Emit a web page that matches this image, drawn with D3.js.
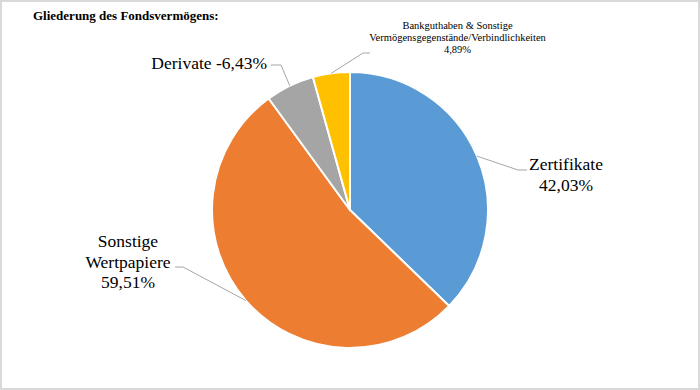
<!DOCTYPE html>
<html><head><meta charset="utf-8">
<script src="https://cdn.jsdelivr.net/npm/d3@7"></script>
<style>
html,body{margin:0;padding:0;background:#fff;}
svg{display:block;}
svg text{font-family:"Liberation Serif","Times New Roman",Times,"DejaVu Serif",serif;}
</style></head>
<body>
<svg id="chart" width="700" height="390"></svg>
<script>
// ---- data ----
const categories = ["Zertifikate", "Sonstige Wertpapiere", "Derivate", "Bankguthaben & Sonstige Vermögensgegenstände/Verbindlichkeiten"];
const values = [42.03, 59.51, -6.43, 4.89];
const labelLines = [
  ["Zertifikate", "42,03%"],
  ["Sonstige", "Wertpapiere", "59,51%"],
  ["Derivate -6,43%"],
  ["Bankguthaben & Sonstige", "Vermögensgegenstände/Verbindlichkeiten", "4,89%"]
];
const colors = ["#5B9BD5", "#ED7D31", "#A5A5A5", "#FFC000"];
const title = "Gliederung des Fondsvermögens:";

// ---- layout ----
const W = 700, H = 390;
const cx = 350, cy = 210, R = 138;
const labelLayout = [
  {bend:[518,170], end:[527,170], x:566, y:170, size:17.5, lh:21, anchor:"middle"},
  {bend:[183,267], end:[175,267], x:128, y:247, size:17.5, lh:20.5, anchor:"middle"},
  {bend:[281,65], end:[271,65], x:267, y:69, size:17.5, lh:20, anchor:"end"},
  {bend:[363,53], end:[370,53], x:457.5, y:28.5, size:10.5, lh:12, anchor:"middle"}
];

const svg = d3.select("#chart");
svg.append("rect").attr("x",1).attr("y",1).attr("width",W-2).attr("height",H-2)
  .attr("fill","#fff").attr("stroke","#d9d9d9").attr("stroke-width",2);

svg.append("text").attr("x",33).attr("y",20)
  .attr("font-weight","bold").attr("font-size",13).attr("fill","#000")
  .text(title);

const data = categories.map((c,i)=>({name:c, value:values[i], idx:i}));
const pie = d3.pie().sort(null).value(d=>Math.abs(d.value));
const arcs = pie(data);
const arc = d3.arc().innerRadius(0).outerRadius(R);

const g = svg.append("g").attr("transform",`translate(${cx},${cy})`);
g.selectAll("path.slice").data(arcs).join("path")
  .attr("class","slice")
  .attr("d",arc)
  .attr("fill",d=>colors[d.data.idx])
  .attr("stroke","#fff").attr("stroke-width",2).attr("stroke-linejoin","round");

// leader lines + labels
arcs.forEach((a,i)=>{
  const L = labelLayout[i];
  const mid = (a.startAngle + a.endAngle)/2;
  const sx = cx + R*Math.sin(mid), sy = cy - R*Math.cos(mid);
  svg.append("polyline")
    .attr("points",[[sx,sy],L.bend,L.end].map(p=>p.join(",")).join(" "))
    .attr("fill","none").attr("stroke","#a6a6a6").attr("stroke-width",1);
  const t = svg.append("text")
    .attr("font-size",L.size).attr("fill","#000")
    .attr("text-anchor",L.anchor);
  labelLines[i].forEach((ln,j)=>{
    t.append("tspan").attr("x",L.x).attr("y",L.y + j*L.lh).text(ln);
  });
});
</script>
</body></html>
